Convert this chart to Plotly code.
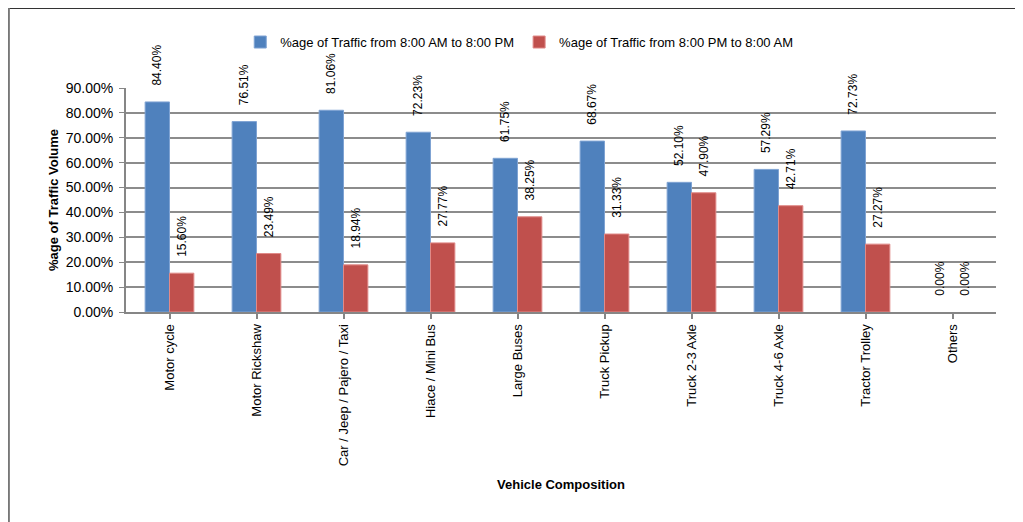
import plotly.graph_objects as go

categories = ["Motor cycle", "Motor Rickshaw", "Car / Jeep / Pajero / Taxi", "Hiace / Mini Bus",
              "Large Buses", "Truck Pickup", "Truck 2-3 Axle", "Truck 4-6 Axle",
              "Tractor Trolley", "Others"]
day_pct = [84.40, 76.51, 81.06, 72.23, 61.75, 68.67, 52.10, 57.29, 72.73, 0.00]
night_pct = [15.60, 23.49, 18.94, 27.77, 38.25, 31.33, 47.90, 42.71, 27.27, 0.00]
series_names = ["%age of Traffic from 8:00 AM to 8:00 PM", "%age of Traffic from 8:00 PM to 8:00 AM"]
y_ticks = [0, 10, 20, 30, 40, 50, 60, 70, 80, 90]

FONT = "Liberation Sans, Arial, sans-serif"
pad = "\u00a0" * 4

L, T, PW, PH = 118, 80, 870, 224
W, H = 1015, 514

fig = go.Figure()
for name, vals, color, edge in [
    (series_names[0], day_pct, "#4F81BD", "#7FA3D3"),
    (series_names[1], night_pct, "#C0504D", "#E08A88"),
]:
    fig.add_trace(go.Bar(
        x=categories, y=[v / 100 for v in vals], name=name,
        marker=dict(color=color, line=dict(color=edge, width=[1 if v > 0 else 0 for v in vals])),
        text=[pad + f"{v:.2f}%" for v in vals],
        textposition="outside", textangle=-90, constraintext="none",
        textfont=dict(family=FONT, size=12, color="#000"),
        cliponaxis=False,
    ))

fig.update_layout(
    width=W, height=H,
    margin=dict(l=L, r=W - L - PW, t=T, b=H - T - PH, autoexpand=False),
    paper_bgcolor="white", plot_bgcolor="white",
    barmode="group", bargap=0.44, bargroupgap=0,
    font=dict(family=FONT, size=13, color="#000"),
    legend=dict(orientation="h", x=0.452, xanchor="center", y=1.205, yanchor="middle",
                font=dict(family=FONT, size=13), bgcolor="rgba(0,0,0,0)",
                traceorder="normal", itemwidth=30),
    showlegend=True,
    shapes=[
        dict(type="line", xref="paper", yref="paper", x0=-L / PW, x1=(W - L) / PW,
             y0=1 + T / PH - 0.002, y1=1 + T / PH - 0.002, line=dict(color="#333", width=1.2)),
        dict(type="line", xref="paper", yref="paper", x0=-L / PW + 0.001, x1=-L / PW + 0.001,
             y0=1 + T / PH, y1=-(H - T - PH) / PH, line=dict(color="#777", width=2)),
    ],
)
fig.update_xaxes(
    type="category", showline=True, linecolor="#868686", linewidth=2,
    ticks="outside", ticklen=5, tickcolor="#868686", tickwidth=1.5,
    tickangle=-90, tickfont=dict(family=FONT, size=13), ticklabelstandoff=0,
    showgrid=False, automargin=False,
    title=dict(text="<b>Vehicle Composition</b>", font=dict(family=FONT, size=13), standoff=15),
)
fig.update_yaxes(
    range=[0, 0.9], tickvals=[t / 100 for t in y_ticks], tickformat=".2%",
    showline=True, linecolor="#868686", linewidth=2,
    ticks="outside", ticklen=5, tickcolor="#868686",
    showgrid=True, gridcolor="#8C8C8C", gridwidth=1.5, zeroline=False,
    tickfont=dict(family=FONT, size=14), automargin=False, ticklabelstandoff=3,
    title=dict(text="<b>%age of Traffic Volume</b>", font=dict(family=FONT, size=13), standoff=4),
)

fig.write_html("out.html")
